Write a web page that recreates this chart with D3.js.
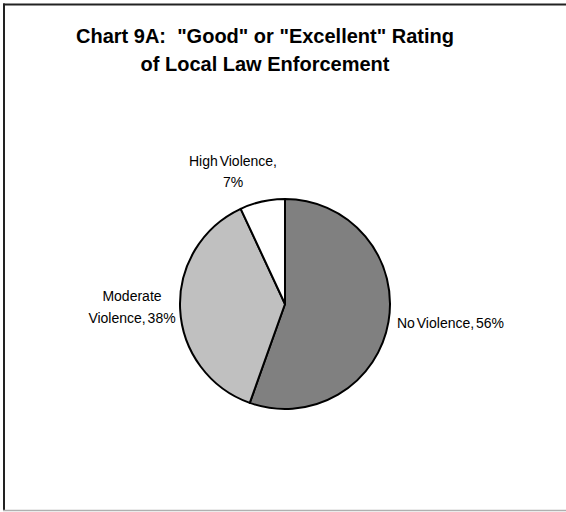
<!DOCTYPE html>
<html>
<head>
<meta charset="utf-8">
<script src="https://cdn.jsdelivr.net/npm/d3@7"></script>
<style>
  html, body { margin: 0; padding: 0; background: #fff; }
  svg { display: block; }
  text { font-family: "Liberation Sans", Arial, sans-serif; fill: #000; white-space: pre; }
</style>
</head>
<body>
<svg id="chart" width="566" height="512"></svg>
<script>
// Share of respondents rating local law enforcement "good" or "excellent"
const categories = ["No Violence", "Moderate Violence", "High Violence"];
const values = [56, 38, 7];
const sliceColors = ["#808080", "#c0c0c0", "#ffffff"];
const titleLines = ["Chart 9A:  \"Good\" or \"Excellent\" Rating", "of Local Law Enforcement"];
// Label lines per slice
const labelLines = [
  ["No Violence, 56%"],
  ["Moderate", "Violence, 38%"],
  ["High Violence,", "7%"]
];

const width = 566, height = 512;
const cx = 285, cy = 304, radius = 105;

const svg = d3.select("#chart");

// Frame
svg.append("rect").attr("x", 0).attr("y", 0).attr("width", width).attr("height", height).attr("fill", "#fff");
svg.append("line").attr("x1", 4).attr("x2", 4).attr("y1", 3.5).attr("y2", 511)
  .attr("stroke", "#222").attr("stroke-width", 2);
svg.append("line").attr("x1", 3).attr("x2", width).attr("y1", 4.5).attr("y2", 4.5)
  .attr("stroke", "#222").attr("stroke-width", 2);
svg.append("line").attr("x1", 3).attr("x2", width).attr("y1", 510.5).attr("y2", 510.5)
  .attr("stroke", "#b0b0b0").attr("stroke-width", 1.5);

// Title
svg.append("text")
  .attr("x", 265).attr("y", 43)
  .attr("text-anchor", "middle")
  .attr("font-size", 20).attr("font-weight", "bold")
  .selectAll("tspan").data(titleLines).join("tspan")
  .attr("x", 265).attr("dy", (d, i) => i === 0 ? 0 : 28)
  .text(d => d);

// Pie
const pie = d3.pie().sort(null).value(d => d);
const arc = d3.arc().innerRadius(0).outerRadius(radius);
const arcs = pie(values);

const g = svg.append("g").attr("transform", `translate(${cx},${cy})`);
g.selectAll("path").data(arcs).join("path")
  .attr("d", arc)
  .attr("fill", (d, i) => sliceColors[i])
  .attr("stroke", "#000")
  .attr("stroke-width", 2)
  .attr("stroke-linejoin", "round");

// Labels placed outside each slice
const labelPos = [
  { x: 397, y: 328, anchor: "start", gap: 0 },
  { x: 132, y: 301, anchor: "middle", gap: 22 },
  { x: 233, y: 166, anchor: "middle", gap: 21 }
];
labelLines.forEach((lines, i) => {
  const p = labelPos[i];
  const t = svg.append("text")
    .attr("x", p.x).attr("y", p.y)
    .attr("text-anchor", p.anchor)
    .attr("font-size", 14)
    .attr("word-spacing", -2);
  t.selectAll("tspan").data(lines).join("tspan")
    .attr("x", p.x).attr("dy", (d, j) => j === 0 ? 0 : p.gap)
    .text(d => d);
});
</script>
</body>
</html>
